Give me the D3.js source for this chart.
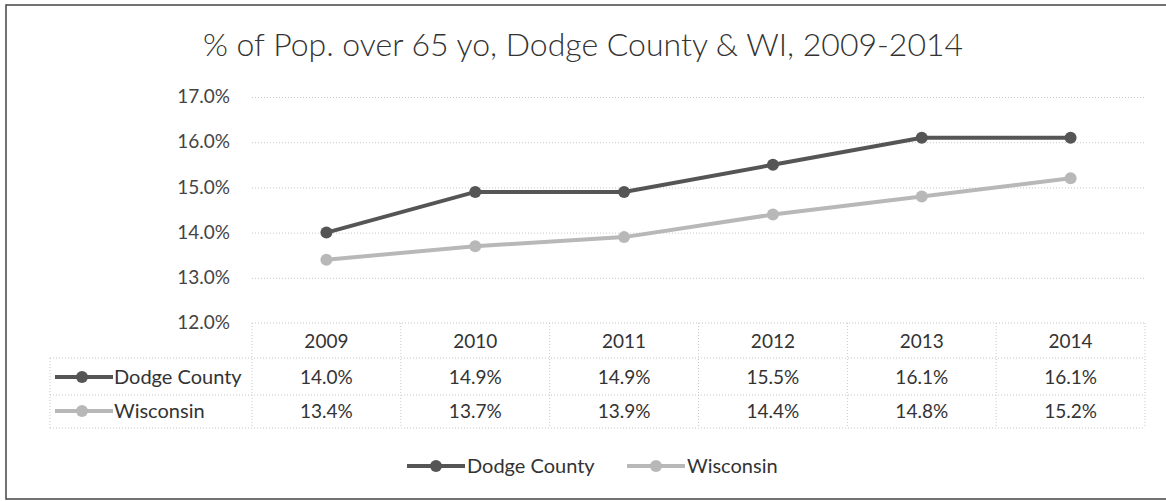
<!DOCTYPE html>
<html>
<head>
<meta charset="utf-8">
<script src="https://cdn.jsdelivr.net/npm/d3@7"></script>
<style>
  body { margin: 0; background: #fff; }
  text { font-family: Lato, "Open Sans", sans-serif; fill: #333; }
</style>
</head>
<body>
<div id="viz"></div>
<script>
// data
var years = ['2009', '2010', '2011', '2012', '2013', '2014'];
var seriesNames = ['Dodge County', 'Wisconsin'];
var dodge = [14.0, 14.9, 14.9, 15.5, 16.1, 16.1];
var wisconsin = [13.4, 13.7, 13.9, 14.4, 14.8, 15.2];
var yTicks = [12, 13, 14, 15, 16, 17];

var width = 1166, height = 501;
var colors = ['#555555', '#b8b8b8'];
var series = [dodge, wisconsin];

var svg = d3.select('#viz').append('svg')
  .attr('width', width)
  .attr('height', height);

// outer frame
svg.append('rect')
  .attr('x', 6).attr('y', 5)
  .attr('width', 1170).attr('height', 494)
  .attr('fill', 'none')
  .attr('stroke', '#444')
  .attr('stroke-width', 1.5);

// title
svg.append('text')
  .attr('x', 583).attr('y', 56)
  .attr('text-anchor', 'middle')
  .style('font-size', '32px')
  .style('font-weight', 300)
  .text('% of Pop. over 65 yo, Dodge County & WI, 2009-2014');

var plotL = 252, plotR = 1145;

var x = d3.scaleBand().domain(years).range([plotL, plotR]);
var y = d3.scaleLinear().domain([12, 17]).range([323, 97]);

// gridlines + y labels
var yAxis = d3.axisLeft(y)
  .tickValues(yTicks)
  .tickSize(-(plotR - plotL))
  .tickFormat(function(d){ return d3.format('.1f')(d) + '%'; });

var gy = svg.append('g')
  .attr('transform', `translate(${plotL},0)`)
  .call(yAxis);
gy.select('.domain').remove();
gy.selectAll('line')
  .attr('stroke', '#c8c8c8')
  .attr('stroke-dasharray', '1,2');
gy.selectAll('text')
  .attr('x', -22)
  .attr('dy', '0.3em')
  .style('font-size', '19px')
  .style('fill', '#444')
  .style('font-family', 'Lato, sans-serif');
gy.selectAll('.tick').filter(function(d){ return d === 12; }).select('line').remove();

// lines
var line = d3.line()
  .x(function(d, i){ return x(years[i]) + x.bandwidth() / 2; })
  .y(function(d){ return y(d); });

// wisconsin first so dodge sits on top
[1, 0].forEach(function(s) {
  svg.append('path')
    .datum(series[s])
    .attr('d', line)
    .attr('fill', 'none')
    .attr('stroke', colors[s])
    .attr('stroke-width', 4);
  svg.selectAll('.pt' + s)
    .data(series[s])
    .enter().append('circle')
    .attr('cx', function(d, i){ return x(years[i]) + x.bandwidth() / 2; })
    .attr('cy', function(d){ return y(d); })
    .attr('r', 6)
    .attr('fill', colors[s]);
});

// data table
var tbl = svg.append('g');
var rowY = [323, 358, 395, 428];
var dot = { stroke: '#c8c8c8', dash: '1,2' };

function hline(x1, x2, yy) {
  tbl.append('line').attr('x1', x1).attr('x2', x2).attr('y1', yy).attr('y2', yy)
    .attr('stroke', dot.stroke).attr('stroke-dasharray', dot.dash);
}
function vline(xx, y1, y2) {
  tbl.append('line').attr('x1', xx).attr('x2', xx).attr('y1', y1).attr('y2', y2)
    .attr('stroke', dot.stroke).attr('stroke-dasharray', dot.dash);
}
hline(plotL, plotR, rowY[0]);
hline(50, plotR, rowY[1]);
hline(50, plotR, rowY[2]);
hline(50, plotR, rowY[3]);
vline(50, rowY[1], rowY[3]);
years.forEach(function(yr){ vline(x(yr), rowY[0], rowY[3]); });
vline(plotR, rowY[0], rowY[3]);

// header years
tbl.selectAll('.yr').data(years).enter().append('text')
  .attr('x', function(d){ return x(d) + x.bandwidth() / 2; })
  .attr('y', 348)
  .attr('text-anchor', 'middle')
  .style('font-size', '19px')
  .text(function(d){ return d; });

// rows
series.forEach(function(vals, s) {
  var ty = s === 0 ? 384 : 418;
  tbl.selectAll('.v' + s).data(vals).enter().append('text')
    .attr('x', function(d, i){ return x(years[i]) + x.bandwidth() / 2; })
    .attr('y', ty)
    .attr('text-anchor', 'middle')
    .style('font-size', '19px')
    .text(function(d){ return d3.format('.1f')(d) + '%'; });

  // legend key in row header
  var ky = ty - 7;
  tbl.append('line').attr('x1', 55).attr('x2', 113).attr('y1', ky).attr('y2', ky)
    .attr('stroke', colors[s]).attr('stroke-width', 4);
  tbl.append('circle').attr('cx', 82).attr('cy', ky).attr('r', 6).attr('fill', colors[s]);
  tbl.append('text')
    .attr('x', 114).attr('y', ty)
    .style('font-size', '20px')
    .text(seriesNames[s]);
});

// legend at bottom
var legX = [407, 627];
var leg = svg.append('g');
seriesNames.forEach(function(name, s) {
  var lx = legX[s], ly = 466;
  leg.append('line').attr('x1', lx).attr('x2', lx + 58).attr('y1', ly).attr('y2', ly)
    .attr('stroke', colors[s]).attr('stroke-width', 4);
  leg.append('circle').attr('cx', lx + 29).attr('cy', ly).attr('r', 6).attr('fill', colors[s]);
  leg.append('text')
    .attr('x', lx + 60).attr('y', ly + 7)
    .style('font-size', '20px')
    .text(name);
});
</script>
</body>
</html>
